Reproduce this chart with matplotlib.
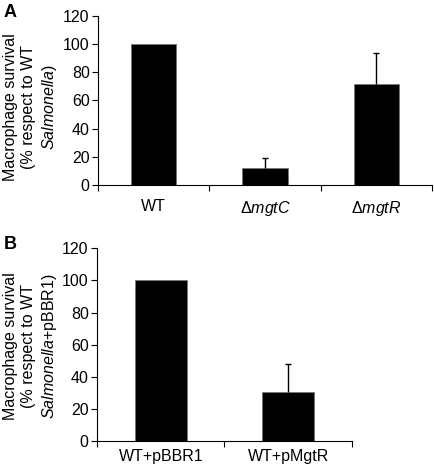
import matplotlib
matplotlib.use("Agg")
import matplotlib.pyplot as plt
import numpy as np

plt.rcParams['font.family'] = ['Liberation Sans', 'DejaVu Sans']
plt.rcParams['mathtext.fontset'] = 'custom'
plt.rcParams['mathtext.rm'] = 'Liberation Sans'
plt.rcParams['mathtext.it'] = 'Liberation Sans:italic'
plt.rcParams['mathtext.bf'] = 'Liberation Sans:bold'

# Panel A data
cats_a = ['WT', r'$\Delta\mathit{mgtC}$', r'$\Delta\mathit{mgtR}$']
vals_a = [100, 12, 71.5]
errs_a = [0, 7, 22]

# Panel B data
cats_b = ['WT+pBBR1', 'WT+pMgtR']
vals_b = [100, 30.5]
errs_b = [0, 17.5]

yticks = [0, 20, 40, 60, 80, 100, 120]

W, H = 434, 470
fig = plt.figure(figsize=(W / 100, H / 100), dpi=100)

def make_ax(l, r, t, b):
    return fig.add_axes([l / W, 1 - b / H, (r - l) / W, (b - t) / H])

def draw(ax, cats, vals, errs, labelpad_x):
    n = len(cats)
    x = np.arange(n) + 0.5
    ax.bar(x, vals, width=0.41, color='black', edgecolor='#777777', linewidth=0.6, zorder=2)
    for xi, v, e in zip(x, vals, errs):
        if e > 0:
            cont = ax.errorbar([xi], [v], yerr=[[0], [e]], fmt='none', ecolor='black',
                               elinewidth=1.0, capsize=2.5, capthick=1.0, zorder=3)
            caps = cont.lines[1]
            if len(caps) > 1:
                caps[0].set_visible(False)
    ax.set_xlim(0, n)
    ax.set_ylim(0, 120)
    ax.set_yticks(yticks)
    ax.set_yticklabels([str(t) for t in yticks])
    ax.set_xticks(x)
    ax.set_xticklabels(cats)
    ax.set_xticks(np.arange(n + 1), minor=True)
    ax.tick_params(axis='x', which='major', length=0, pad=labelpad_x, labelsize=11.5)
    ax.tick_params(axis='x', which='minor', length=4, width=0.8, direction='out')
    ax.tick_params(axis='y', length=4, width=0.8, direction='out', pad=2, labelsize=11.5)
    for s in ['top', 'right']:
        ax.spines[s].set_visible(False)
    for s in ['left', 'bottom']:
        ax.spines[s].set_linewidth(0.8)

axA = make_ax(98, 432, 16, 185)
draw(axA, cats_a, vals_a, errs_a, 10)

axB = make_ax(97, 352, 248.3, 441)
draw(axB, cats_b, vals_b, errs_b, 6)

ylab_a = 'Macrophage survival\n(% respect to WT\n$\\mathit{Salmonella}$)'
ylab_b = 'Macrophage survival\n(% respect to WT\n$\\mathit{Salmonella}$+pBBR1)'
fig.text(31 / W, 1 - 107 / H, ylab_a, rotation=90, fontsize=11.5, linespacing=1.3,
         ha='center', va='center', multialignment='center')
fig.text(31 / W, 1 - 346 / H, ylab_b, rotation=90, fontsize=11.5, linespacing=1.3,
         ha='center', va='center', multialignment='center')

fig.text(4 / W, 1 - 17 / H, 'A', fontsize=13, fontweight='bold', ha='left', va='baseline')
fig.text(4 / W, 1 - 249 / H, 'B', fontsize=13, fontweight='bold', ha='left', va='baseline')

fig.savefig('out.png', dpi=100)
